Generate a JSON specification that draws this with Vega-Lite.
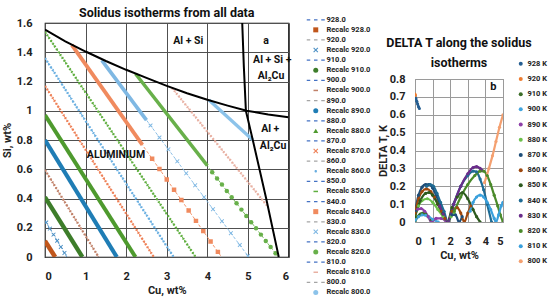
{
"$schema": "https://vega.github.io/schema/vega-lite/v6.json",
"padding": {"left": 0, "top": 5, "right": 0, "bottom": 0},
"config": {
 "font": "Roboto",
 "title": {"font": "Roboto", "fontSize": 12.5, "fontWeight": "bold", "color": "#111"},
 "axis": {"labelFont": "Roboto", "titleFont": "Roboto", "labelFontSize": 11, "titleFontSize": 11, "labelFontWeight": "bold", "titleFontWeight": "bold", "labelColor": "#222", "titleColor": "#222", "domain": false, "ticks": false, "labelOverlap": false},
 "legend": {"labelFont": "Roboto", "labelFontWeight": "bold", "labelColor": "#222"}
},
"resolve": {
 "scale": {"color": "independent", "stroke": "independent", "shape": "independent", "strokeWidth": "independent"},
 "legend": {"color": "independent", "stroke": "independent", "shape": "independent", "strokeWidth": "independent"}
},
"datasets": {
 "iso": [
  {"T":"928","Cu":0,"Si":0.11},{"T":"928","Cu":0.25,"Si":0},
  {"T":"920","Cu":0,"Si":0.25},{"T":"920","Cu":0.54,"Si":0},
  {"T":"910","Cu":0,"Si":0.41},{"T":"910","Cu":0.92,"Si":0},
  {"T":"900","Cu":0,"Si":0.595},{"T":"900","Cu":1.32,"Si":0},
  {"T":"890","Cu":0,"Si":0.8},{"T":"890","Cu":1.77,"Si":0},
  {"T":"880","Cu":0,"Si":0.97},{"T":"880","Cu":2.23,"Si":0},
  {"T":"870","Cu":0,"Si":1.17},{"T":"870","Cu":2.68,"Si":0},
  {"T":"860","Cu":0,"Si":1.36},{"T":"860","Cu":3.17,"Si":0},
  {"T":"850","Cu":0,"Si":1.54},{"T":"850","Cu":3.71,"Si":0},
  {"T":"840","Cu":0.66,"Si":1.45},{"T":"840","Cu":4.35,"Si":0},
  {"T":"830","Cu":1.4,"Si":1.345},{"T":"830","Cu":5.02,"Si":0},
  {"T":"820","Cu":2.23,"Si":1.253},{"T":"820","Cu":5.75,"Si":0},
  {"T":"810","Cu":3.13,"Si":1.156},{"T":"810","Cu":5.49,"Si":0.345},
  {"T":"800","Cu":4.04,"Si":1.073},{"T":"800","Cu":5.12,"Si":0.8}
 ],
 "thick": [
  {"T":"928","Cu":0,"Si":0.11},{"T":"928","Cu":0.25,"Si":0},
  {"T":"910","Cu":0,"Si":0.41},{"T":"910","Cu":0.92,"Si":0},
  {"T":"890","Cu":0,"Si":0.8},{"T":"890","Cu":1.77,"Si":0},
  {"T":"880","Cu":0,"Si":0.97},{"T":"880","Cu":2.23,"Si":0},
  {"T":"840","Cu":0.66,"Si":1.45},{"T":"840","Cu":2.4,"Si":0.766},
  {"T":"830","Cu":1.4,"Si":1.345},{"T":"830","Cu":2.5,"Si":0.936},
  {"T":"820","Cu":2.23,"Si":1.253},{"T":"820","Cu":4.0,"Si":0.625},
  {"T":"800","Cu":4.04,"Si":1.073},{"T":"800","Cu":5.12,"Si":0.8}
 ],
 "hatch": [
  {"T":"900","Cu":0,"Si":0.595},{"T":"900","Cu":1.32,"Si":0},
  {"T":"870","Cu":0,"Si":1.17},{"T":"870","Cu":2.68,"Si":0},
  {"T":"860","Cu":0,"Si":1.36},{"T":"860","Cu":3.17,"Si":0},
  {"T":"850","Cu":0,"Si":1.54},{"T":"850","Cu":3.71,"Si":0},
  {"T":"810","Cu":3.13,"Si":1.156},{"T":"810","Cu":5.49,"Si":0.345}
 ],
 "marks": [
  {"series":"Recalc 920.0","Cu":0.03,"Si":0.236},{"series":"Recalc 920.0","Cu":0.12,"Si":0.194},{"series":"Recalc 920.0","Cu":0.21,"Si":0.153},{"series":"Recalc 920.0","Cu":0.3,"Si":0.111},{"series":"Recalc 920.0","Cu":0.39,"Si":0.069},{"series":"Recalc 920.0","Cu":0.48,"Si":0.028},
  {"series":"Recalc 830.0","Cu":2.6,"Si":0.899},{"series":"Recalc 830.0","Cu":2.82,"Si":0.817},{"series":"Recalc 830.0","Cu":3.04,"Si":0.736},{"series":"Recalc 830.0","Cu":3.26,"Si":0.654},{"series":"Recalc 830.0","Cu":3.48,"Si":0.572},{"series":"Recalc 830.0","Cu":3.7,"Si":0.49},{"series":"Recalc 830.0","Cu":3.92,"Si":0.409},{"series":"Recalc 830.0","Cu":4.14,"Si":0.327},{"series":"Recalc 830.0","Cu":4.36,"Si":0.245},{"series":"Recalc 830.0","Cu":4.58,"Si":0.163},{"series":"Recalc 830.0","Cu":4.8,"Si":0.082},{"series":"Recalc 830.0","Cu":5.0,"Si":0.007},
  {"series":"Recalc 840.0","Cu":2.64,"Si":0.672},{"series":"Recalc 840.0","Cu":2.82,"Si":0.601},{"series":"Recalc 840.0","Cu":3.0,"Si":0.53},{"series":"Recalc 840.0","Cu":3.18,"Si":0.46},{"series":"Recalc 840.0","Cu":3.36,"Si":0.389},{"series":"Recalc 840.0","Cu":3.54,"Si":0.318},{"series":"Recalc 840.0","Cu":3.72,"Si":0.247},{"series":"Recalc 840.0","Cu":3.9,"Si":0.177},{"series":"Recalc 840.0","Cu":4.08,"Si":0.106},{"series":"Recalc 840.0","Cu":4.26,"Si":0.035},
  {"series":"Recalc 820.0","Cu":4.12,"Si":0.58},{"series":"Recalc 820.0","Cu":4.24,"Si":0.537},{"series":"Recalc 820.0","Cu":4.36,"Si":0.495},{"series":"Recalc 820.0","Cu":4.48,"Si":0.452},{"series":"Recalc 820.0","Cu":4.6,"Si":0.409},{"series":"Recalc 820.0","Cu":4.72,"Si":0.367},{"series":"Recalc 820.0","Cu":4.84,"Si":0.324},{"series":"Recalc 820.0","Cu":4.96,"Si":0.281},{"series":"Recalc 820.0","Cu":5.08,"Si":0.238},{"series":"Recalc 820.0","Cu":5.2,"Si":0.196},{"series":"Recalc 820.0","Cu":5.32,"Si":0.153},{"series":"Recalc 820.0","Cu":5.44,"Si":0.11},{"series":"Recalc 820.0","Cu":5.56,"Si":0.068},{"series":"Recalc 820.0","Cu":5.68,"Si":0.025}
 ],
 "bound": [
  {"seg":"solidus","Cu":0,"Si":1.555},{"seg":"solidus","Cu":0.5,"Si":1.475},{"seg":"solidus","Cu":1.0,"Si":1.405},{"seg":"solidus","Cu":1.5,"Si":1.34},{"seg":"solidus","Cu":2.0,"Si":1.28},{"seg":"solidus","Cu":2.5,"Si":1.225},{"seg":"solidus","Cu":3.0,"Si":1.17},{"seg":"solidus","Cu":3.5,"Si":1.12},{"seg":"solidus","Cu":4.0,"Si":1.075},{"seg":"solidus","Cu":4.5,"Si":1.035},{"seg":"solidus","Cu":4.97,"Si":1.0},{"seg":"solidus","Cu":5.5,"Si":0.975},{"seg":"solidus","Cu":6.0,"Si":0.955},
  {"seg":"cu","Cu":4.86,"Si":1.6},{"seg":"cu","Cu":4.9,"Si":1.3},{"seg":"cu","Cu":4.95,"Si":1.0},{"seg":"cu","Cu":5.12,"Si":0.8},{"seg":"cu","Cu":5.45,"Si":0.4},{"seg":"cu","Cu":5.76,"Si":0}
 ],
 "labels": [
  {"t":"Al + Si","Cu":3.53,"Si":1.48},
  {"t":"a","Cu":5.45,"Si":1.48},
  {"t":"Al + Si +","Cu":5.6,"Si":1.35},
  {"t":"Al₂Cu","Cu":5.57,"Si":1.24},
  {"t":"Al +","Cu":5.55,"Si":0.875},
  {"t":"Al₂Cu","Cu":5.62,"Si":0.76},
  {"t":"ALUMINIUM","Cu":1.75,"Si":0.7}
 ],
 "dt": [
  {"s":"928 K","c":0,"d":0.705},{"s":"928 K","c":0.05,"d":0.69},{"s":"928 K","c":0.1,"d":0.675},{"s":"928 K","c":0.15,"d":0.66},{"s":"928 K","c":0.2,"d":0.645},{"s":"928 K","c":0.25,"d":0.635},
  {"s":"920 K","c":0,"d":0.715},{"s":"920 K","c":0.02,"d":0.708},
  {"s":"910 K","c":0,"d":0.0},{"s":"910 K","c":0.15,"d":0.03},{"s":"910 K","c":0.3,"d":0.045},{"s":"910 K","c":0.45,"d":0.05},{"s":"910 K","c":0.6,"d":0.045},{"s":"910 K","c":0.75,"d":0.03},{"s":"910 K","c":0.92,"d":0.01},
  {"s":"900 K","c":0,"d":0.01},{"s":"900 K","c":0.2,"d":0.03},{"s":"900 K","c":0.4,"d":0.04},{"s":"900 K","c":0.6,"d":0.038},{"s":"900 K","c":0.8,"d":0.028},{"s":"900 K","c":1.0,"d":0.015},{"s":"900 K","c":1.32,"d":0.0},
  {"s":"890 K","c":0,"d":0.06},{"s":"890 K","c":0.15,"d":0.072},{"s":"890 K","c":0.35,"d":0.075},{"s":"890 K","c":0.55,"d":0.06},{"s":"890 K","c":0.75,"d":0.03},{"s":"890 K","c":0.92,"d":0.0},{"s":"890 K","c":1.2,"d":0.02},{"s":"890 K","c":1.5,"d":0.02},{"s":"890 K","c":1.77,"d":0.0},
  {"s":"880 K","c":0,"d":0.03},{"s":"880 K","c":0.2,"d":0.09},{"s":"880 K","c":0.4,"d":0.12},{"s":"880 K","c":0.7,"d":0.13},{"s":"880 K","c":1.0,"d":0.11},{"s":"880 K","c":1.3,"d":0.07},{"s":"880 K","c":1.6,"d":0.03},{"s":"880 K","c":1.85,"d":0.0},{"s":"880 K","c":2.05,"d":0.03},{"s":"880 K","c":2.23,"d":0.05},
  {"s":"870 K","c":0,"d":0.06},{"s":"870 K","c":0.2,"d":0.15},{"s":"870 K","c":0.4,"d":0.195},{"s":"870 K","c":0.6,"d":0.21},{"s":"870 K","c":0.8,"d":0.21},{"s":"870 K","c":1.0,"d":0.19},{"s":"870 K","c":1.2,"d":0.15},{"s":"870 K","c":1.4,"d":0.1},{"s":"870 K","c":1.6,"d":0.05},{"s":"870 K","c":1.85,"d":0.0},{"s":"870 K","c":2.1,"d":0.04},{"s":"870 K","c":2.3,"d":0.04},{"s":"870 K","c":2.5,"d":0.0},{"s":"870 K","c":2.68,"d":0.03},
  {"s":"860 K","c":0,"d":0.05},{"s":"860 K","c":0.2,"d":0.13},{"s":"860 K","c":0.4,"d":0.17},{"s":"860 K","c":0.65,"d":0.185},{"s":"860 K","c":0.9,"d":0.17},{"s":"860 K","c":1.1,"d":0.14},{"s":"860 K","c":1.3,"d":0.1},{"s":"860 K","c":1.5,"d":0.06},{"s":"860 K","c":1.7,"d":0.02},{"s":"860 K","c":1.85,"d":0.0},{"s":"860 K","c":2.1,"d":0.06},{"s":"860 K","c":2.4,"d":0.08},{"s":"860 K","c":2.6,"d":0.05},{"s":"860 K","c":2.8,"d":0.0},{"s":"860 K","c":3.0,"d":0.05},{"s":"860 K","c":3.17,"d":0.09},
  {"s":"850 K","c":0,"d":0.03},{"s":"850 K","c":0.3,"d":0.12},{"s":"850 K","c":0.6,"d":0.16},{"s":"850 K","c":0.8,"d":0.165},{"s":"850 K","c":1.0,"d":0.15},{"s":"850 K","c":1.3,"d":0.1},{"s":"850 K","c":1.6,"d":0.045},{"s":"850 K","c":1.85,"d":0.0},{"s":"850 K","c":2.1,"d":0.08},{"s":"850 K","c":2.4,"d":0.14},{"s":"850 K","c":2.7,"d":0.165},{"s":"850 K","c":3.0,"d":0.13},{"s":"850 K","c":3.3,"d":0.07},{"s":"850 K","c":3.5,"d":0.03},{"s":"850 K","c":3.7,"d":0.0},
  {"s":"840 K","c":0.66,"d":0.2},{"s":"840 K","c":0.85,"d":0.21},{"s":"840 K","c":1.05,"d":0.2},{"s":"840 K","c":1.25,"d":0.16},{"s":"840 K","c":1.45,"d":0.11},{"s":"840 K","c":1.65,"d":0.06},{"s":"840 K","c":1.87,"d":0.0},{"s":"840 K","c":2.2,"d":0.1},{"s":"840 K","c":2.6,"d":0.2},{"s":"840 K","c":3.0,"d":0.26},{"s":"840 K","c":3.3,"d":0.285},{"s":"840 K","c":3.5,"d":0.28},{"s":"840 K","c":3.7,"d":0.24},{"s":"840 K","c":3.9,"d":0.18},{"s":"840 K","c":4.1,"d":0.1},{"s":"840 K","c":4.35,"d":0.0},
  {"s":"830 K","c":1.4,"d":0.09},{"s":"830 K","c":1.6,"d":0.045},{"s":"830 K","c":1.87,"d":0.0},{"s":"830 K","c":2.2,"d":0.1},{"s":"830 K","c":2.6,"d":0.2},{"s":"830 K","c":3.0,"d":0.27},{"s":"830 K","c":3.3,"d":0.305},{"s":"830 K","c":3.5,"d":0.31},{"s":"830 K","c":3.7,"d":0.3},{"s":"830 K","c":3.8,"d":0.29},
  {"s":"820 K","c":2.23,"d":0.06},{"s":"820 K","c":2.6,"d":0.14},{"s":"820 K","c":3.0,"d":0.21},{"s":"820 K","c":3.4,"d":0.26},{"s":"820 K","c":3.7,"d":0.285},{"s":"820 K","c":3.9,"d":0.285},{"s":"820 K","c":4.1,"d":0.26},{"s":"820 K","c":4.3,"d":0.21},{"s":"820 K","c":4.5,"d":0.15},{"s":"820 K","c":4.7,"d":0.09},{"s":"820 K","c":4.85,"d":0.04},{"s":"820 K","c":5.0,"d":0.0},
  {"s":"810 K","c":3.13,"d":0.06},{"s":"810 K","c":3.3,"d":0.11},{"s":"810 K","c":3.5,"d":0.14},{"s":"810 K","c":3.7,"d":0.15},{"s":"810 K","c":3.9,"d":0.14},{"s":"810 K","c":4.1,"d":0.11},{"s":"810 K","c":4.3,"d":0.07},{"s":"810 K","c":4.5,"d":0.02},{"s":"810 K","c":4.6,"d":0.0},{"s":"810 K","c":4.75,"d":0.04},{"s":"810 K","c":4.9,"d":0.09},{"s":"810 K","c":5.0,"d":0.11},
  {"s":"800 K","c":3.95,"d":0.22},{"s":"800 K","c":4.2,"d":0.3},{"s":"800 K","c":4.4,"d":0.37},{"s":"800 K","c":4.6,"d":0.45},{"s":"800 K","c":4.8,"d":0.53},{"s":"800 K","c":5.0,"d":0.6}
 ],
 "blabel": [{"t":"b","c":4.45,"d":0.755}]
},
"spacing": 4,
"hconcat": [
 {
  "width": 243.5, "height": 234,
  "title": {"text": "Solidus isotherms from all data", "offset": -3},
  "view": {"stroke": "#000", "strokeWidth": 1.2},
  "encoding": {
   "x": {"field": "Cu", "type": "quantitative", "scale": {"domain": [0, 6], "nice": false},
     "axis": {"values": [0,1,2,3,4,5,6], "tickCount": 20, "format": "~g", "title": "Cu, wt%", "labelPadding": 13, "titlePadding": 3, "gridColor": "#505050", "gridWidth": 1, "gridOpacity": 1}},
   "y": {"field": "Si", "type": "quantitative", "scale": {"domain": [0, 1.6], "nice": false},
     "axis": {"values": [0,0.2,0.4,0.6,0.8,1,1.2,1.4,1.6], "tickCount": 20, "format": "~g", "title": "Si, wt%", "labelPadding": 13, "titlePadding": 4, "gridColor": "#505050", "gridWidth": 1, "gridOpacity": 1}}
  },
  "layer": [
   {"data": {"name": "iso"},
    "mark": {"type": "line", "strokeDash": [3, 2], "strokeWidth": 0.9, "clip": true},
    "encoding": {
     "stroke": {"field": "T", "type": "nominal", "legend": null,
       "scale": {"domain": ["928","920","910","900","890","880","870","860","850","840","830","820","810","800"],
                 "range": ["#c0561b","#4a8fc4","#3d7d2a","#c08068","#1f7db5","#4e9a2e","#ee7f55","#68aee0","#5eae3e","#f08a5e","#7fb8e3","#68b04a","#e8b0a2","#8cc3ea"]}}
    }},
   {"data": {"name": "thick"},
    "mark": {"type": "line", "strokeCap": "butt", "clip": true},
    "encoding": {
     "stroke": {"field": "T", "type": "nominal", "legend": null},
     "strokeWidth": {"field": "T", "type": "nominal", "legend": null,
       "scale": {"domain": ["928","910","890","880","840","830","820","800"], "range": [4.5,3.3,3.3,3.3,4.5,2.4,3.3,3]}}
    }},
   {"data": {"name": "hatch"},
    "mark": {"type": "line", "strokeDash": [1.6, 1.8], "strokeWidth": 2.4, "clip": true},
    "encoding": {
     "stroke": {"field": "T", "type": "nominal", "legend": null}
    }},
   {"data": {"name": "marks"},
    "mark": {"type": "point", "filled": true, "size": 20, "opacity": 1, "clip": true},
    "encoding": {
     "color": {"field": "series", "type": "nominal",
       "scale": {"domain": ["928.0","Recalc 928.0","920.0","Recalc 920.0","910.0","Recalc 910.0","900.0","Recalc 900.0","890.0","Recalc 890.0","880.0","Recalc 880.0","870.0","Recalc 870.0","860.0","Recalc 860.0","850.0","Recalc 850.0","840.0","Recalc 840.0","830.0","Recalc 830.0","820.0","Recalc 820.0","810.0","Recalc 810.0","800.0","Recalc 800.0"],
                 "range": ["#4472c4","#c0561b","#a5a5a5","#4a8fc4","#4472c4","#3d7d2a","#4472c4","#c08068","#a5a5a5","#1f7db5","#4472c4","#4e9a2e","#4472c4","#ee7f55","#a5a5a5","#68aee0","#4472c4","#5eae3e","#4472c4","#f08a5e","#a5a5a5","#7fb8e3","#4472c4","#68b04a","#4472c4","#e8b0a2","#a5a5a5","#8cc3ea"]},
       "legend": {"orient": "none", "legendX": 267, "legendY": -7, "title": null, "labelFontSize": 7.5, "symbolSize": 25, "rowPadding": 1.1, "labelOffset": 7, "padding": 0, "symbolStrokeWidth": 0}},
     "shape": {"field": "series", "type": "nominal",
       "scale": {"domain": ["928.0","Recalc 928.0","920.0","Recalc 920.0","910.0","Recalc 910.0","900.0","Recalc 900.0","890.0","Recalc 890.0","880.0","Recalc 880.0","870.0","Recalc 870.0","860.0","Recalc 860.0","850.0","Recalc 850.0","840.0","Recalc 840.0","830.0","Recalc 830.0","820.0","Recalc 820.0","810.0","Recalc 810.0","800.0","Recalc 800.0"],
                 "range": [
"M-3.6,-0.25H-2.2V0.25H-3.6Z M-0.7,-0.25H0.7V0.25H-0.7Z M2.2,-0.25H3.6V0.25H2.2Z","square",
"M-3.6,-0.25H-2.2V0.25H-3.6Z M-0.7,-0.25H0.7V0.25H-0.7Z M2.2,-0.25H3.6V0.25H2.2Z","M-1,-0.7L-0.7,-1L0,-0.3L0.7,-1L1,-0.7L0.3,0L1,0.7L0.7,1L0,0.3L-0.7,1L-1,0.7L-0.3,0Z",
"M-3.6,-0.25H-2.2V0.25H-3.6Z M-0.7,-0.25H0.7V0.25H-0.7Z M2.2,-0.25H3.6V0.25H2.2Z","circle",
"M-3.6,-0.25H-2.2V0.25H-3.6Z M-0.7,-0.25H0.7V0.25H-0.7Z M2.2,-0.25H3.6V0.25H2.2Z","M-0.9,-0.3H0.9V0.3H-0.9Z",
"M-3.6,-0.25H-2.2V0.25H-3.6Z M-0.7,-0.25H0.7V0.25H-0.7Z M2.2,-0.25H3.6V0.25H2.2Z","circle",
"M-3.6,-0.25H-2.2V0.25H-3.6Z M-0.7,-0.25H0.7V0.25H-0.7Z M2.2,-0.25H3.6V0.25H2.2Z","triangle-up",
"M-3.6,-0.25H-2.2V0.25H-3.6Z M-0.7,-0.25H0.7V0.25H-0.7Z M2.2,-0.25H3.6V0.25H2.2Z","M-1,-0.7L-0.7,-1L0,-0.3L0.7,-1L1,-0.7L0.3,0L1,0.7L0.7,1L0,0.3L-0.7,1L-1,0.7L-0.3,0Z",
"M-3.6,-0.25H-2.2V0.25H-3.6Z M-0.7,-0.25H0.7V0.25H-0.7Z M2.2,-0.25H3.6V0.25H2.2Z","M-0.5,0A0.5,0.5 0 1,0 0.5,0A0.5,0.5 0 1,0 -0.5,0Z",
"M-3.6,-0.25H-2.2V0.25H-3.6Z M-0.7,-0.25H0.7V0.25H-0.7Z M2.2,-0.25H3.6V0.25H2.2Z","M-0.9,-0.3H0.9V0.3H-0.9Z",
"M-3.6,-0.25H-2.2V0.25H-3.6Z M-0.7,-0.25H0.7V0.25H-0.7Z M2.2,-0.25H3.6V0.25H2.2Z","square",
"M-3.6,-0.25H-2.2V0.25H-3.6Z M-0.7,-0.25H0.7V0.25H-0.7Z M2.2,-0.25H3.6V0.25H2.2Z","M-1,-0.7L-0.7,-1L0,-0.3L0.7,-1L1,-0.7L0.3,0L1,0.7L0.7,1L0,0.3L-0.7,1L-1,0.7L-0.3,0Z",
"M-3.6,-0.25H-2.2V0.25H-3.6Z M-0.7,-0.25H0.7V0.25H-0.7Z M2.2,-0.25H3.6V0.25H2.2Z","circle",
"M-3.6,-0.25H-2.2V0.25H-3.6Z M-0.7,-0.25H0.7V0.25H-0.7Z M2.2,-0.25H3.6V0.25H2.2Z","M-0.9,-0.3H0.9V0.3H-0.9Z",
"M-3.6,-0.25H-2.2V0.25H-3.6Z M-0.7,-0.25H0.7V0.25H-0.7Z M2.2,-0.25H3.6V0.25H2.2Z","circle"]},
       "legend": {"orient": "none", "legendX": 267, "legendY": -7, "title": null, "labelFontSize": 7.5, "symbolSize": 25, "rowPadding": 1.1, "labelOffset": 7, "padding": 0, "symbolStrokeWidth": 0}}
    }},
   {"data": {"name": "bound"},
    "mark": {"type": "line", "color": "#000", "strokeWidth": 2, "clip": true},
    "encoding": {
     "detail": {"field": "seg", "type": "nominal"}
    }},
   {"data": {"name": "labels"},
    "mark": {"type": "text", "font": "Roboto", "fontWeight": "bold", "fontSize": 10.5, "color": "#111"},
    "encoding": {
     "text": {"field": "t"}
    }}
  ]
 },
 {
  "spacing": 0,
  "resolve": {
   "scale": {"color": "independent", "stroke": "independent"},
   "legend": {"color": "independent", "stroke": "independent"}
  },
  "vconcat": [
   {"width": 88, "height": 13, "data": {"values": []}, "mark": "point", "encoding": {}, "view": {"stroke": null}},
   {
    "width": 88, "height": 143,
    "title": {"text": ["DELTA T along the solidus", "isotherms"], "lineHeight": 20, "offset": -9, "frame": "group", "fontSize": 12.5},
    "view": {"stroke": "#888", "strokeWidth": 1},
    "encoding": {
     "x": {"field": "c", "type": "quantitative", "scale": {"domain": [0, 5], "nice": false},
       "axis": {"values": [0,1,2,3,4,5], "tickCount": 20, "format": "~g", "title": "Cu, wt%", "labelPadding": 13, "titlePadding": 3, "gridColor": "#9a9a9a", "gridOpacity": 1}},
     "y": {"field": "d", "type": "quantitative", "scale": {"domain": [0, 0.8], "nice": false},
       "axis": {"values": [0,0.1,0.2,0.3,0.4,0.5,0.6,0.7,0.8], "tickCount": 20, "format": "~g", "title": "DELTA T, K", "labelPadding": 10, "titlePadding": 1, "gridColor": "#9a9a9a", "gridOpacity": 1}}
    },
    "layer": [
     {"data": {"name": "dt"},
      "mark": {"type": "line", "strokeWidth": 2.2, "interpolate": "monotone", "clip": true},
      "encoding": {
       "stroke": {"field": "s", "type": "nominal", "legend": null,
         "scale": {"domain": ["800 K","810 K","820 K","830 K","840 K","850 K","860 K","870 K","880 K","890 K","900 K","910 K","920 K","928 K"],
                   "range": ["#f4a070","#3aa0dc","#4a8a2a","#6a2c8a","#1f6b94","#2d5a1e","#9e480e","#1e4e79","#6cc04a","#8e3fa8","#42a5de","#3c6e28","#ed7d31","#255e91"]}}
      }},
     {"data": {"name": "dt"},
      "mark": {"type": "point", "filled": true, "size": 10, "opacity": 1, "clip": true},
      "encoding": {
       "color": {"field": "s", "type": "nominal",
         "scale": {"domain": ["928 K","920 K","910 K","900 K","890 K","880 K","870 K","860 K","850 K","840 K","830 K","820 K","810 K","800 K"],
                   "range": ["#255e91","#ed7d31","#3c6e28","#42a5de","#8e3fa8","#6cc04a","#1e4e79","#9e480e","#2d5a1e","#1f6b94","#6a2c8a","#4a8a2a","#3aa0dc","#f4a070"]},
         "legend": {"orient": "none", "legendX": 102, "legendY": -19, "title": null, "labelFontSize": 7.5, "symbolSize": 16, "symbolType": "circle", "rowPadding": 6.2, "labelOffset": 3, "padding": 0, "symbolStrokeWidth": 0}}
      }},
     {"data": {"name": "blabel"},
      "mark": {"type": "text", "font": "Roboto", "fontWeight": "bold", "fontSize": 11, "color": "#111"},
      "encoding": {
       "text": {"field": "t"}
      }}
    ]
   }
  ]
 }
]
}
